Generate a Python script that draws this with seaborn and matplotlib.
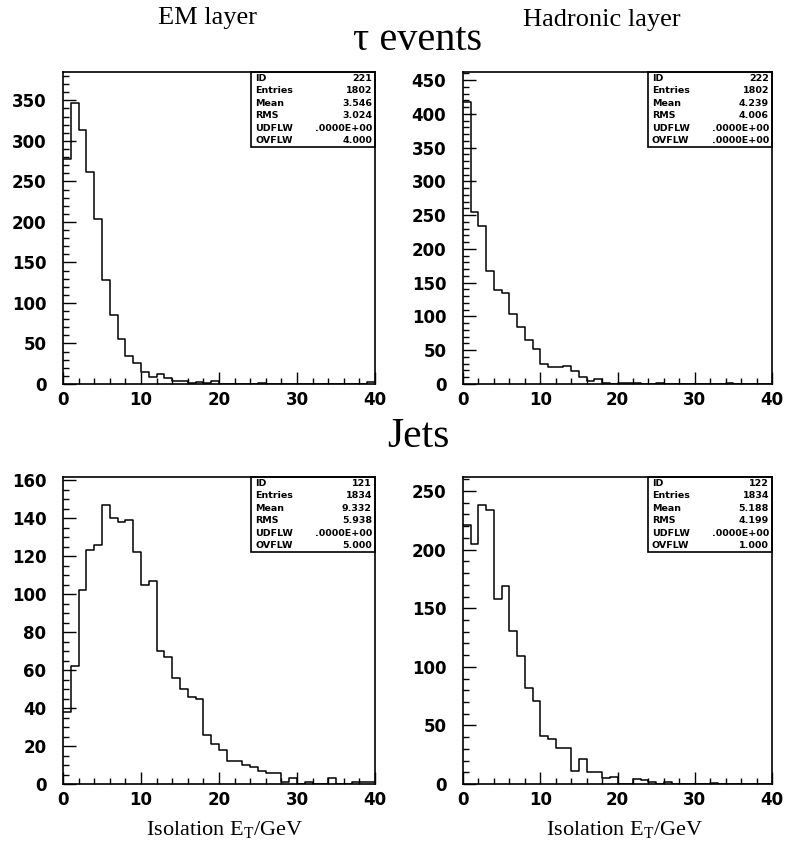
import numpy as np
import pandas as pd
import matplotlib
matplotlib.use("Agg")
import matplotlib.pyplot as plt
import seaborn as sns
from matplotlib.patches import Rectangle
from matplotlib.ticker import MultipleLocator

# ---------------- data (counts per 1 GeV bin, 0..40 GeV) ----------------
bin_edges = list(range(0, 41))

tau_em = [278, 347, 314, 262, 204, 128, 85, 56, 35, 26,
          15, 9, 12, 7, 4, 4, 1, 3, 1, 4,
          0, 0, 0, 0, 0, 1, 0, 0, 0, 0,
          0, 0, 0, 0, 0, 0, 0, 0, 0, 2]
tau_had = [418, 255, 234, 168, 139, 135, 103, 85, 65, 52,
           30, 25, 25, 27, 19, 11, 5, 8, 2, 0,
           2, 2, 2, 0, 0, 1, 0, 0, 0, 0,
           0, 0, 0, 0, 1, 0, 0, 0, 0, 0]
jet_em = [38, 62, 102, 123, 126, 147, 140, 138, 139, 122,
          105, 107, 70, 67, 56, 50, 46, 45, 26, 21,
          18, 12, 12, 10, 9, 7, 6, 6, 1, 3,
          0, 1, 0, 0, 3, 0, 0, 1, 1, 1]
jet_had = [221, 205, 238, 234, 158, 169, 131, 109, 82, 71,
           41, 38, 31, 31, 11, 21, 10, 10, 5, 6,
           0, 0, 4, 3, 2, 0, 2, 0, 0, 0,
           0, 0, 1, 0, 0, 0, 0, 0, 0, 0]

stat_labels = ["ID", "Entries", "Mean", "RMS", "UDFLW", "OVFLW"]
stats_tau_em = ["221", "1802", "3.546", "3.024", ".0000E+00", "4.000"]
stats_tau_had = ["222", "1802", "4.239", "4.006", ".0000E+00", ".0000E+00"]
stats_jet_em = ["121", "1834", "9.332", "5.938", ".0000E+00", "5.000"]
stats_jet_had = ["122", "1834", "5.188", "4.199", ".0000E+00", "1.000"]

column_titles = ["EM layer", "Hadronic layer"]
row_titles = ["\u03c4 events", "Jets"]
x_title = r"Isolation E$_\mathregular{T}$/GeV"

# ---------------- style ----------------
sns.set_theme(style="ticks")
plt.rcParams["font.family"] = ["DejaVu Sans"]
plt.rcParams["axes.linewidth"] = 1.2
plt.rcParams["text.color"] = "black"
plt.rcParams["axes.labelcolor"] = "black"
plt.rcParams["xtick.color"] = "black"
plt.rcParams["ytick.color"] = "black"
plt.rcParams["mathtext.fontset"] = "custom"
plt.rcParams["mathtext.rm"] = "Liberation Serif"

W, H = 790, 850
fig = plt.figure(figsize=(W / 100, H / 100), dpi=100)
fig.patch.set_facecolor("white")


def add_ax(x0, x1, y0, y1):
    return fig.add_axes([x0 / W, 1 - y1 / H, (x1 - x0) / W, (y1 - y0) / H])


panels = [
    (tau_em, stats_tau_em, (63, 375, 72, 384), 385, 50, 10),
    (tau_had, stats_tau_had, (463, 772, 72, 384), 462, 50, 10),
    (jet_em, stats_jet_em, (63, 375, 477, 784), 161.7, 20, 5),
    (jet_had, stats_jet_had, (463, 772, 477, 784), 262, 50, 10),
]

centers = [(a + b) / 2 for a, b in zip(bin_edges[:-1], bin_edges[1:])]

for counts, stats, (x0, x1, y0, y1), ymax, ymaj, ymin in panels:
    ax = add_ax(x0, x1, y0, y1)
    df = pd.DataFrame({"et": centers, "n": counts})
    sns.histplot(data=df, x="et", weights="n", bins=bin_edges, element="step",
                 fill=False, color="black", linewidth=1.1, ax=ax)
    ax.set_xlim(0, 40)
    ax.set_ylim(0, ymax)
    ax.set_xlabel("")
    ax.set_ylabel("")
    ax.set_facecolor("white")
    ax.xaxis.set_major_locator(MultipleLocator(10))
    ax.xaxis.set_minor_locator(MultipleLocator(2))
    ax.yaxis.set_major_locator(MultipleLocator(ymaj))
    ax.yaxis.set_minor_locator(MultipleLocator(ymin))
    ax.tick_params(which="both", direction="in", top=False, right=False,
                   colors="black", labelsize=12, width=1.0)
    ax.tick_params(which="major", length=9)
    ax.tick_params(which="minor", length=4.5)
    ax.tick_params(axis="x", pad=5)
    ax.tick_params(axis="y", pad=12)
    for lab in ax.get_xticklabels() + ax.get_yticklabels():
        lab.set_fontweight("bold")
    for s in ax.spines.values():
        s.set_color("black")
        s.set_linewidth(1.2)

    # stats box (pixel geometry converted to axes fraction)
    bx0 = 1 - 124 / (x1 - x0)
    bh = 75 / (y1 - y0)
    ax.add_patch(Rectangle((bx0, 1 - bh), 1 - bx0, bh, transform=ax.transAxes,
                           fill=False, edgecolor="black", linewidth=1.2,
                           clip_on=False, zorder=5))
    nrow = len(stat_labels)
    for i, (lab, val) in enumerate(zip(stat_labels, stats)):
        yy = 1 - bh * (i + 0.5) / nrow
        ax.text(bx0 + 4 / (x1 - x0), yy, lab, transform=ax.transAxes,
                ha="left", va="center", fontsize=6.8, fontweight="bold",
                color="black")
        ax.text(1 - 3 / (x1 - x0), yy, val, transform=ax.transAxes,
                ha="right", va="center", fontsize=6.8, fontweight="bold",
                color="black")

serif = ["Liberation Serif", "DejaVu Serif"]
fig.text(207 / W, 1 - 18 / H, column_titles[0], ha="center", va="center",
         fontsize=19, family=serif, color="black")
fig.text(602 / W, 1 - 20 / H, column_titles[1], ha="center", va="center",
         fontsize=19, family=serif, color="black")
fig.text(418 / W, 1 - 41 / H, row_titles[0], ha="center", va="center",
         fontsize=29, family=serif, color="black")
fig.text(418 / W, 1 - 437 / H, row_titles[1], ha="center", va="center",
         fontsize=30, family=serif, color="black")
fig.text(225 / W, 1 - 830 / H, x_title, ha="center", va="center",
         fontsize=16, family=serif, color="black")
fig.text(625 / W, 1 - 830 / H, x_title, ha="center", va="center",
         fontsize=16, family=serif, color="black")

fig.savefig("out.png", dpi=100, facecolor="white")
